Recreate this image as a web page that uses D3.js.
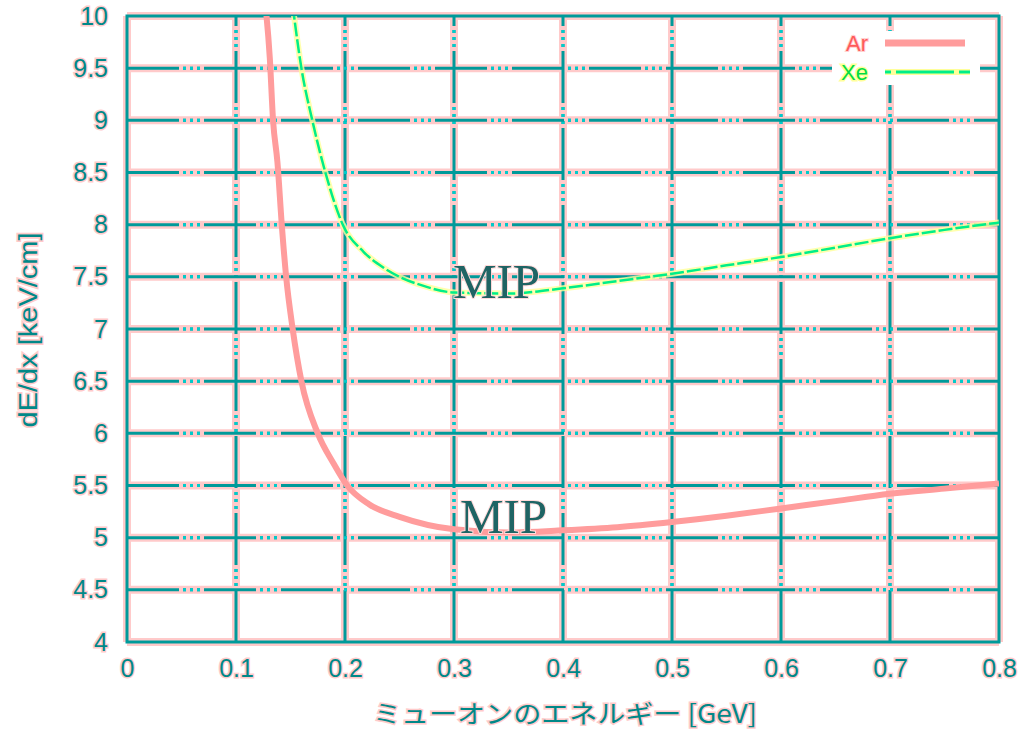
<!DOCTYPE html>
<html><head><meta charset="utf-8">
<script src="https://cdn.jsdelivr.net/npm/d3@7"></script>
<style>body{margin:0;background:#fff}svg{display:block}</style>
</head><body>
<script>
const xTicks = [0,0.1,0.2,0.3,0.4,0.5,0.6,0.7,0.8];
const yTicks = [4,4.5,5,5.5,6,6.5,7,7.5,8,8.5,9,9.5,10];
const arX = [0.126,0.131,0.134,0.138,0.142,0.146,0.152,0.160,0.175,0.189,0.202,0.222,0.250,0.300,0.350,0.400,0.450,0.500,0.550,0.600,0.650,0.700,0.750,0.800];
const arY = [10.2,9.6,9.0,8.6,8.0,7.5,7.0,6.5,6.0,5.72,5.50,5.32,5.20,5.08,5.05,5.07,5.10,5.15,5.21,5.28,5.35,5.42,5.47,5.52];
const xeX = [0.152,0.160,0.170,0.182,0.198,0.217,0.235,0.250,0.270,0.300,0.350,0.400,0.450,0.500,0.550,0.600,0.650,0.700,0.750,0.800];
const xeY = [10.1,9.5,9.0,8.5,8.0,7.74,7.59,7.50,7.42,7.35,7.34,7.39,7.46,7.53,7.61,7.69,7.78,7.87,7.95,8.02];
const seriesNames = ["Ar","Xe"];
const xTitle = "ミューオンのエネルギー [GeV]";
const yTitle = "dE/dx [keV/cm]";
const mipLabels = [{t:"MIP",x:0.299,y:7.30},{t:"MIP",x:0.3055,y:5.045}];

const W=1021,H=730;
const L=127,R=999,T=16,B=642;
const svg=d3.select("body").append("svg").attr("width",W).attr("height",H);
svg.append("rect").attr("width",W).attr("height",H).attr("fill","#fff");
const x=d3.scaleLinear().domain([0,0.8]).range([L,R]);
const y=d3.scaleLinear().domain([4,10]).range([B,T]);

const teal="#009a9a", halo="#ffcaca";
const g=svg.append("g");
xTicks.forEach(v=>g.append("line").attr("x1",x(v)).attr("x2",x(v)).attr("y1",T).attr("y2",B).attr("stroke",halo).attr("stroke-width",8));
yTicks.forEach(v=>g.append("line").attr("y1",y(v)).attr("y2",y(v)).attr("x1",L).attr("x2",R).attr("stroke",halo).attr("stroke-width",8));
const dash="52,4,3,4,3,4,3,4";
const dots="0,56,3,4,3,4,3,4";
xTicks.slice(1,-1).forEach(v=>{
  g.append("line").attr("x1",x(v)).attr("x2",x(v)).attr("y1",B).attr("y2",T).attr("stroke",teal).attr("stroke-width",3).attr("stroke-dasharray",dash);
  g.append("line").attr("x1",x(v)).attr("x2",x(v)).attr("y1",B).attr("y2",T).attr("stroke","#00cccc").attr("stroke-width",3).attr("stroke-dasharray",dots);
});
yTicks.slice(1,-1).forEach(v=>{
  g.append("line").attr("y1",y(v)).attr("y2",y(v)).attr("x1",L).attr("x2",R).attr("stroke",teal).attr("stroke-width",3).attr("stroke-dasharray",dash);
  g.append("line").attr("y1",y(v)).attr("y2",y(v)).attr("x1",L).attr("x2",R).attr("stroke","#00cccc").attr("stroke-width",3).attr("stroke-dasharray",dots);
});
g.append("rect").attr("x",L).attr("y",T).attr("width",R-L).attr("height",B-T).attr("fill","none").attr("stroke",teal).attr("stroke-width",3);

const xAxis=svg.append("g").attr("transform",`translate(0,${B})`).call(d3.axisBottom(x).tickValues(xTicks).tickSize(0).tickPadding(26).tickFormat(d=>d3.format("")(+d.toFixed(1))));
const yAxis=svg.append("g").attr("transform",`translate(${L},0)`).call(d3.axisLeft(y).tickValues(yTicks).tickSize(0).tickPadding(19).tickFormat(d=>d3.format("")(+d.toFixed(1))));
[xAxis,yAxis].forEach(a=>{a.select(".domain").remove();
 a.selectAll("text").attr("font-family","Liberation Sans, Arial, sans-serif").attr("font-size",25).attr("fill","#008888")
  .attr("stroke",halo).attr("stroke-width",3).attr("paint-order","stroke");});
xAxis.selectAll("text").attr("dy","0.35em");

svg.append("clipPath").attr("id","clip").append("rect").attr("x",L).attr("y",T).attr("width",R-L).attr("height",B-T);
const line=d3.line().x(d=>x(d[0])).y(d=>y(d[1])).curve(d3.curveMonotoneX);
const cg=svg.append("g").attr("clip-path","url(#clip)");
const arD=arX.map((v,i)=>[v,arY[i]]);
const xeD=xeX.map((v,i)=>[v,xeY[i]]);
cg.append("path").attr("d",line(arD)).attr("fill","none").attr("stroke","#ff9c9c").attr("stroke-width",6);
cg.append("path").attr("d",line(xeD)).attr("fill","none").attr("stroke","#ffff9a").attr("stroke-width",6).attr("opacity",0.8);
cg.append("path").attr("d",line(xeD)).attr("fill","none").attr("stroke","#00ee88").attr("stroke-width",2.5).attr("stroke-dasharray","14,3");

const lg=svg.append("g");
lg.append("rect").attr("x",832).attr("y",31).attr("width",148).attr("height",54).attr("fill","#fff");
lg.append("text").attr("x",868).attr("y",43).attr("dy","0.35em").attr("text-anchor","end").attr("font-family","Liberation Sans, Arial, sans-serif").attr("font-size",22).attr("fill","#ff5a5a").attr("stroke","#ffd0d0").attr("stroke-width",2).attr("paint-order","stroke").text(seriesNames[0]);
lg.append("line").attr("x1",885).attr("x2",965).attr("y1",43).attr("y2",43).attr("stroke","#ff9c9c").attr("stroke-width",7);
lg.append("text").attr("x",868).attr("y",72).attr("dy","0.35em").attr("text-anchor","end").attr("font-family","Liberation Sans, Arial, sans-serif").attr("font-size",22).attr("fill","#00dd44").attr("stroke","#ffff9a").attr("stroke-width",3).attr("paint-order","stroke").text(seriesNames[1]);
lg.append("line").attr("x1",885).attr("x2",970).attr("y1",72).attr("y2",72).attr("stroke","#ffff9a").attr("stroke-width",6);
lg.append("line").attr("x1",885).attr("x2",970).attr("y1",72).attr("y2",72).attr("stroke","#00ee88").attr("stroke-width",3).attr("stroke-dasharray","6,5,58,5,14");

mipLabels.forEach(m=>svg.append("text").attr("x",x(m.x)).attr("y",y(m.y)).attr("font-family","Liberation Serif, Times New Roman, serif").attr("font-size",49).attr("fill","#1f6464").attr("stroke","#ffdada").attr("stroke-width",2).attr("paint-order","stroke").text(m.t));

svg.append("text").attr("x",(373+757)/2).attr("y",714).attr("dy","0.35em").attr("text-anchor","middle").attr("font-family","Noto Sans CJK JP, sans-serif").attr("font-size",25).attr("fill","#008888").attr("stroke",halo).attr("stroke-width",3).attr("paint-order","stroke").attr("textLength",384).attr("lengthAdjust","spacingAndGlyphs").text(xTitle);
svg.append("text").attr("transform","translate(28,330) rotate(-90)").attr("dy","0.35em").attr("text-anchor","middle").attr("font-family","Liberation Sans, Arial, sans-serif").attr("font-size",25).attr("fill","#008888").attr("stroke",halo).attr("stroke-width",3).attr("paint-order","stroke").attr("textLength",195).attr("lengthAdjust","spacingAndGlyphs").text(yTitle);
</script>
</body></html>
